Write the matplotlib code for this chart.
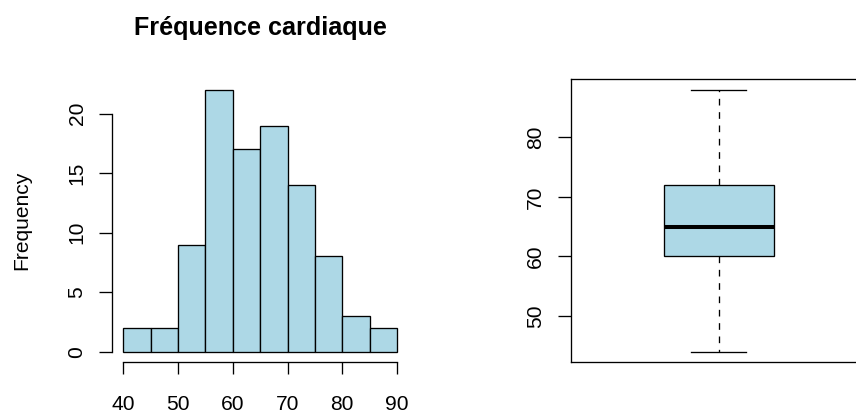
import matplotlib
matplotlib.use("Agg")
import matplotlib.pyplot as plt

plt.rcParams["font.family"] = ["Liberation Sans", "DejaVu Sans"]
plt.rcParams["lines.scale_dashes"] = False

# histogramme de la frequence cardiaque
bornes = [40, 45, 50, 55, 60, 65, 70, 75, 80, 85, 90]
effectifs = [2, 2, 9, 22, 17, 19, 14, 8, 3, 2]
ticks_x = [40, 50, 60, 70, 80, 90]
ticks_y_hist = [0, 5, 10, 15, 20]

# boxplot (resume en 5 valeurs)
moustache_bas = 44
q1 = 60
mediane = 65
q3 = 72
moustache_haut = 88
ticks_y_box = [50, 60, 70, 80]

couleur = "#ADD8E6"
lw = 0.95
taille = 15.1

fig = plt.figure(figsize=(8.56, 4.12), dpi=100)

# --- histogramme
ax1 = fig.add_axes([0.1312, 0.1209, 0.4766 - 0.1312, 0.8073 - 0.1209])
largeurs = [b - a for a, b in zip(bornes[:-1], bornes[1:])]
ax1.bar(bornes[:-1], effectifs, width=largeurs, align="edge",
        color=couleur, edgecolor="black", linewidth=lw)
ax1.set_xlim(38, 92)
ax1.set_ylim(-0.88, 22.88)
ax1.spines["top"].set_visible(False)
ax1.spines["right"].set_visible(False)
ax1.spines["left"].set_bounds(0, 20)
ax1.spines["bottom"].set_bounds(40, 90)
ax1.spines["bottom"].set_position(("outward", 0))
for s in ["left", "bottom"]:
    ax1.spines[s].set_linewidth(lw)
ax1.set_xticks(ticks_x)
ax1.set_yticks(ticks_y_hist)
ax1.tick_params(axis="x", length=8.9, width=lw, pad=15, labelsize=taille)
ax1.tick_params(axis="y", length=9.5, width=lw, pad=9, labelsize=taille)
plt.setp(ax1.get_yticklabels(), rotation=90, va="center")
ax1.set_facecolor("none")

fig.text(260 / 856, 1 - 35 / 412, "Fréquence cardiaque", ha="center",
         va="baseline", fontsize=taille * 1.2, fontweight="bold")
fig.text(22 / 856, 0.464, "Frequency", rotation=90, ha="center",
         va="center", fontsize=taille)

# --- boxplot
ax2 = fig.add_axes([570.7 / 856, 0.1209, 296 / 856, 0.8073 - 0.1209])
stats = [{"whislo": moustache_bas, "q1": q1, "med": mediane,
          "q3": q3, "whishi": moustache_haut, "fliers": []}]
ax2.bxp(stats, positions=[1], widths=0.4, capwidths=0.2, patch_artist=True,
        boxprops=dict(facecolor=couleur, edgecolor="black", linewidth=lw),
        medianprops=dict(color="black", linewidth=2.9, solid_capstyle="butt"),
        whiskerprops=dict(color="black", linewidth=lw, linestyle=(0, (4.8, 4.8))),
        capprops=dict(color="black", linewidth=lw),
        showfliers=False)
ax2.set_xlim(0.46, 1.54)
ax2.set_ylim(42.24, 89.76)
ax2.set_xticks([])
ax2.set_yticks(ticks_y_box)
for s in ax2.spines.values():
    s.set_linewidth(lw)
ax2.tick_params(axis="y", length=9.5, width=lw, pad=9, labelsize=taille)
plt.setp(ax2.get_yticklabels(), rotation=90, va="center")

fig.savefig("out.png", dpi=100)
